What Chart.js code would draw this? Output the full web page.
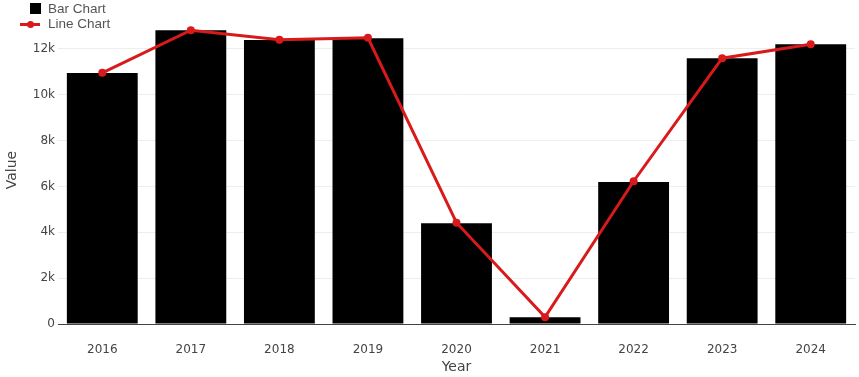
<!DOCTYPE html>
<html>
<head>
<meta charset="utf-8">
<script src="https://cdn.jsdelivr.net/npm/chart.js@4/dist/chart.umd.min.js"></script>
<style>
  html, body { margin: 0; padding: 0; background: #fff; }
  #wrap { position: relative; width: 859px; height: 377px; }
  #legend { position: absolute; left: 0; top: 0; font-family: "Liberation Sans", Arial, sans-serif; font-size: 13.5px; color: #555; }
  .item { position: absolute; left: 48px; white-space: nowrap; line-height: 16px; }
  .sq { position: absolute; left: 30px; top: 3px; width: 11px; height: 11px; background: #000; }
  .ln { position: absolute; left: 20px; top: 22.5px; width: 20px; height: 3px; background: #d91a1a; }
  .dot { position: absolute; left: 26.5px; top: 20.5px; width: 7px; height: 7px; border-radius: 50%; background: #d91a1a; }
</style>
</head>
<body>
<div id="wrap">
  <canvas id="c" width="859" height="377"></canvas>
  <div id="legend">
    <div class="sq"></div>
    <div class="item" style="top:0.5px">Bar Chart</div>
    <div class="ln"></div><div class="dot"></div>
    <div class="item" style="top:16px">Line Chart</div>
  </div>
</div>
<script>
const categories = ['2016', '2017', '2018', '2019', '2020', '2021', '2022', '2023', '2024'];
const barValues = [10950, 12820, 12390, 12470, 4400, 290, 6200, 11600, 12210];
const lineValues = [10960, 12820, 12400, 12490, 4420, 300, 6230, 11600, 12210];
const yTicks = [0, 2000, 4000, 6000, 8000, 10000, 12000];
const barLabel = 'Bar Chart';
const lineLabel = 'Line Chart';
const xTitle = 'Year';
const yTitle = 'Value';

const tickFont = { family: '"DejaVu Sans", Verdana, sans-serif', size: 12 };
const titleFont = { family: '"DejaVu Sans", Verdana, sans-serif', size: 14 };

new Chart(document.getElementById('c'), {
  data: {
    labels: categories,
    datasets: [
      {
        type: 'line', label: lineLabel, data: lineValues, order: 0,
        borderColor: '#d91a1a', backgroundColor: '#d91a1a', borderWidth: 3,
        pointRadius: 4, pointHoverRadius: 4, pointBorderWidth: 0, tension: 0
      },
      {
        type: 'bar', label: barLabel, data: barValues, order: 1,
        backgroundColor: '#000', borderWidth: 0,
        categoryPercentage: 1.0, barPercentage: 0.8
      }
    ]
  },
  options: {
    responsive: false,
    animation: false,
    layout: { padding: { top: 16, right: 2, bottom: 0, left: 0 } },
    plugins: { legend: { display: false }, tooltip: { enabled: false } },
    scales: {
      x: {
        grid: { display: false, drawTicks: false },
        border: { display: true, color: '#444', width: 1 },
        ticks: { font: tickFont, color: '#444', padding: 19, maxRotation: 0 },
        title: { display: true, text: xTitle, font: titleFont, color: '#444', padding: { top: 0, bottom: 1 } },
        afterFit: s => { s.height = 53; }
      },
      y: {
        min: 0, max: 13440,
        grid: { color: '#eeeeee', drawTicks: false },
        border: { display: false },
        afterBuildTicks: s => { s.ticks = yTicks.map(v => ({ value: v })); },
        ticks: {
          font: tickFont, color: '#444', padding: 3,
          callback: v => v === 0 ? '0' : (v / 1000) + 'k'
        },
        title: { display: true, text: yTitle, font: titleFont, color: '#444', padding: { top: 4, bottom: 0 } },
        afterFit: s => { s.width = 58; }
      }
    }
  }
});
</script>
</body>
</html>
